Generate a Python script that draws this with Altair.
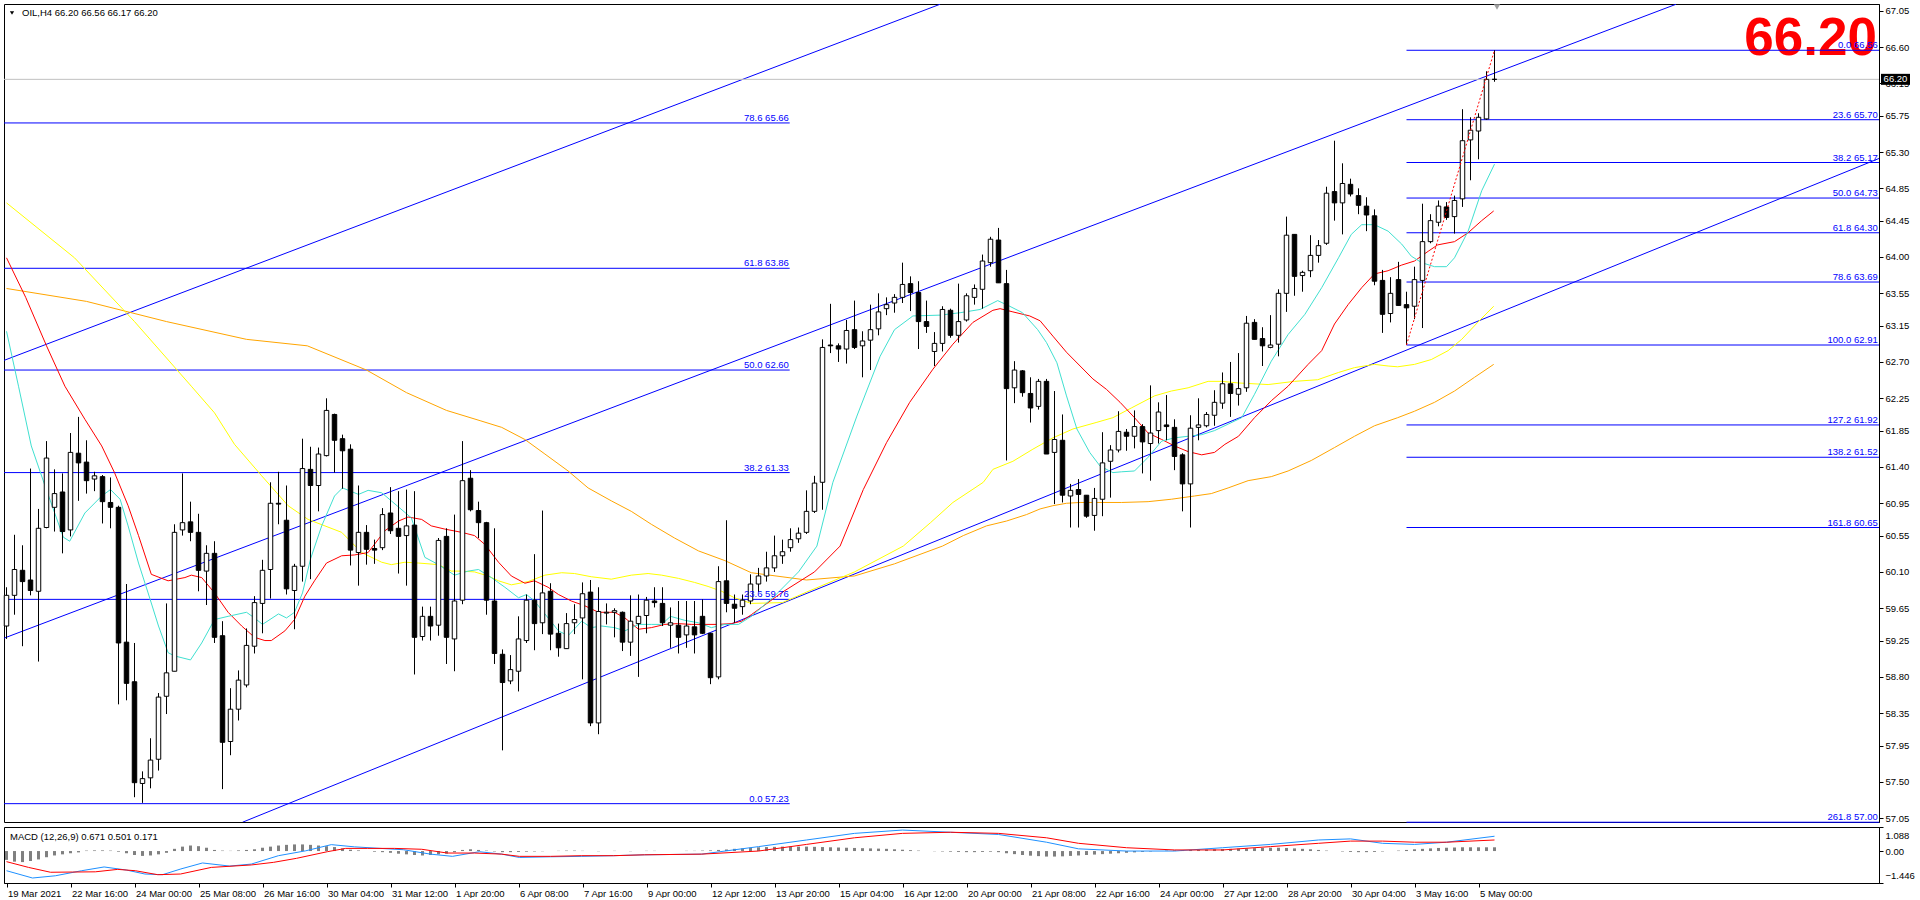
import altair as alt
import pandas as pd

FONT = "Liberation Sans"

# ---------------- OHLC (H4 bars, index 0 = 19 Mar 2021 08:00) ----------------
opens = [59.43,59.81,60.12,60.00,59.86,60.65,60.90,61.09,60.62,61.57,
         61.46,61.25,61.28,60.96,60.90,59.23,58.74,57.48,57.55,57.78,
         58.56,58.87,60.62,60.72,60.59,60.11,60.33,59.31,58.00,58.40,
         58.70,59.18,59.71,60.13,60.95,60.74,59.87,60.17,61.37,61.17,
         61.54,62.05,61.75,61.62,60.34,60.59,60.39,60.40,60.83,60.64,
         60.55,60.68,59.30,59.55,59.44,60.54,59.27,59.75,61.26,60.86,
         60.71,59.74,59.08,58.75,58.87,59.25,59.75,59.47,59.86,59.34,
         59.15,59.47,59.53,59.85,58.23,59.59,59.60,59.60,59.23,59.46,
         59.56,59.74,59.71,59.44,59.44,59.32,59.42,59.55,59.34,58.80,
         59.99,59.70,59.67,59.74,59.95,60.05,60.15,60.30,60.40,60.51,
         60.59,60.85,61.21,62.91,62.90,62.86,63.10,62.90,62.97,63.11,
         63.36,63.43,63.50,63.67,63.56,63.20,62.83,62.93,63.34,63.03,
         63.22,63.50,63.60,63.93,64.21,63.67,62.38,62.59,62.31,62.15,
         62.46,61.58,61.73,61.04,61.12,61.05,60.80,61.00,61.47,61.61,
         61.83,61.78,61.90,61.69,61.85,61.92,61.89,61.55,61.19,61.89,
         61.91,62.04,62.19,62.43,62.30,62.38,63.19,62.99,62.88,62.92,
         63.55,64.28,63.77,63.83,64.02,64.17,64.81,64.67,64.90,64.76,
         64.63,64.51,63.71,63.30,63.72,63.41,63.39,63.71,64.19,64.43,
         64.62,64.50,64.72,65.45,65.56,65.71,66.20]
highs = [59.91,60.56,60.43,61.38,60.88,61.72,61.37,61.32,61.82,62.02,
         61.73,61.34,61.30,61.27,60.92,59.95,59.22,57.63,58.04,58.60,
         59.71,60.69,61.32,60.97,60.82,60.43,60.48,59.49,58.66,58.88,
         59.40,59.80,60.25,61.21,61.34,61.17,60.20,61.75,61.65,61.64,
         62.25,62.06,61.80,61.68,61.17,60.68,60.50,60.89,61.15,61.10,
         61.12,61.10,59.67,59.67,60.52,60.64,60.81,61.72,61.36,60.97,
         60.72,60.64,59.14,59.07,59.55,59.82,60.32,60.86,59.96,59.46,
         59.59,59.70,59.97,60.00,59.91,59.71,59.65,59.61,59.81,59.82,
         59.79,59.91,59.91,59.66,59.74,59.74,59.74,59.76,59.34,60.17,
         60.74,59.82,59.82,60.07,60.15,60.35,60.55,60.50,60.64,60.65,
         61.11,61.29,62.98,63.42,62.93,63.22,63.46,63.08,63.41,63.55,
         63.50,63.54,63.93,63.76,63.70,63.46,63.07,63.39,63.36,63.67,
         63.55,63.66,64.03,64.25,64.36,63.84,62.71,62.60,62.51,62.49,
         62.49,62.34,62.05,61.19,61.25,61.05,61.14,61.83,61.67,62.09,
         61.87,62.10,61.93,62.41,62.20,62.29,61.99,61.57,62.04,62.25,
         62.08,62.35,62.57,62.70,62.81,63.27,63.23,63.13,63.28,63.60,
         64.50,64.28,63.83,64.27,64.21,64.87,65.44,65.16,64.97,64.85,
         64.74,64.59,63.84,63.75,63.94,63.57,63.88,64.66,64.53,64.70,
         64.68,64.76,65.83,65.73,65.78,66.30,66.56]
lows = [59.27,59.57,59.18,59.81,58.99,60.64,60.60,60.33,60.54,60.98,
        61.07,61.10,60.70,60.64,58.46,58.51,57.31,57.24,57.42,57.64,
        58.34,58.87,60.55,60.48,59.86,59.69,59.22,57.41,57.83,58.26,
        58.67,59.09,59.34,59.77,60.69,59.82,59.39,59.98,60.01,60.85,
        61.53,61.33,61.13,60.18,59.93,60.19,60.20,60.37,60.57,60.08,
        59.93,58.83,59.25,59.25,59.31,58.96,58.87,59.70,60.85,60.52,
        59.57,58.96,57.89,58.71,58.62,59.22,59.13,59.33,59.13,59.05,
        59.15,59.33,58.77,58.19,58.09,59.45,59.29,59.12,59.06,58.80,
        59.34,59.66,59.43,59.16,59.09,59.16,59.09,59.33,58.71,58.77,
        59.60,59.47,59.57,59.70,59.85,59.98,60.10,60.20,60.35,60.46,
        60.57,60.83,60.87,62.81,62.70,62.68,62.86,62.51,62.60,63.03,
        63.28,63.31,63.43,63.33,62.86,63.06,62.65,62.83,63.00,62.94,
        63.20,63.41,63.36,63.88,63.68,61.48,62.19,62.27,61.95,62.11,
        61.56,60.94,60.96,60.65,60.65,60.77,60.61,60.79,61.02,61.58,
        61.60,61.63,61.32,61.23,61.69,61.73,61.36,60.85,60.65,61.73,
        61.89,61.91,62.12,62.02,62.16,62.33,62.98,62.65,62.87,62.77,
        63.32,63.52,63.57,63.75,63.93,64.15,64.45,64.28,64.75,64.53,
        64.32,63.65,63.06,63.19,63.40,62.91,63.23,63.12,64.17,64.38,
        64.46,64.29,64.62,64.95,65.21,65.70,66.17]
closes = [59.81,60.13,59.98,59.87,60.64,61.51,61.07,60.60,61.58,61.45,
          61.23,61.29,60.97,60.90,59.22,58.72,57.49,57.54,57.77,58.55,
          58.85,60.59,60.71,60.59,60.12,60.33,59.29,57.99,58.40,58.76,
          59.19,59.72,60.12,60.95,60.94,59.89,60.17,61.38,61.17,61.56,
          62.10,61.73,61.60,60.37,60.59,60.38,60.37,60.81,60.61,60.54,
          60.67,59.29,59.55,59.43,60.49,59.29,59.74,61.23,60.87,60.71,
          59.75,59.09,58.73,58.89,59.27,59.75,59.46,59.84,59.33,59.16,
          59.46,59.51,59.83,58.23,59.61,59.60,59.62,59.23,59.49,59.55,
          59.75,59.72,59.47,59.47,59.29,59.43,59.32,59.34,58.79,59.98,
          59.71,59.65,59.75,59.95,60.05,60.15,60.30,60.35,60.50,60.58,
          60.85,61.20,62.88,62.90,62.86,63.09,62.88,62.96,63.10,63.32,
          63.41,63.50,63.66,63.56,63.20,63.14,62.93,63.35,63.03,63.20,
          63.52,63.61,63.95,64.22,63.68,62.37,62.60,62.32,62.13,62.46,
          61.56,61.74,61.05,61.11,61.06,60.79,61.01,61.45,61.61,61.84,
          61.78,61.90,61.71,61.82,62.08,61.90,61.53,61.19,61.88,61.92,
          62.05,62.20,62.43,62.31,62.37,63.18,62.98,62.90,62.91,63.55,
          64.27,63.76,63.81,64.02,64.14,64.79,64.67,64.91,64.78,64.64,
          64.52,63.70,63.29,63.55,63.40,63.37,63.72,64.19,64.45,64.63,
          64.49,64.70,65.44,65.57,65.73,66.20,66.20]

ma_cyan_x = [0,1.5,3.1,4.8,7.1,7.9,9.8,11.9,13,14.2,15.2,16.5,17.7,19,20.2,21,23,24.4,26,27.7,30,31,32,34,35,36,37,38,39.4,41,42,44,45.2,46.9,48.1,50.6,52.3,54,56,57.7,59,60.6,62.3,64,65,66,67.7,69,70.2,71.9,73.1,74.4,76,77.3,79,80.6,81.9,83,84.8,86.5,88.1,89.8,91.5,93.1,96,99,101.3,103.3,106.3,109.2,111,113.3,116.7,119.2,121.7,123.9,125.4,127,128.9,130,131.3,132.5,133.8,135.4,136.7,138.3,139.4,141,142.7,144.4,146,147.7,149.4,151,152.7,154.4,156,158.1,160.2,162.3,164.4,166.5,168.1,169.4,171,172.7,174.4,175.6,176.9,178.5,180,181,182.7,184.4,186]
ma_cyan_y = [63.08,62.40,61.66,61.17,60.53,60.48,60.83,61.04,61.12,61.00,60.67,60.21,59.84,59.43,59.10,59.06,59.01,59.22,59.51,59.55,59.60,59.53,59.45,59.58,59.53,59.60,59.84,60.26,60.67,61.04,61.14,61.06,61.11,61.08,60.98,60.77,60.28,60.19,60.06,60.11,60.13,60.03,59.91,59.78,59.82,59.74,59.53,59.37,59.31,59.49,59.41,59.43,59.41,59.37,59.45,59.45,59.45,59.55,59.50,59.47,59.41,59.45,59.45,59.55,59.80,60.10,60.42,61.21,62.03,62.77,63.10,63.27,63.28,63.31,63.35,63.46,63.39,63.31,63.10,62.94,62.69,62.28,61.87,61.58,61.41,61.33,61.34,61.35,61.52,61.72,61.76,61.78,61.80,61.85,61.93,62.01,62.30,62.71,63.04,63.29,63.62,63.99,64.28,64.40,64.40,64.32,64.16,64.01,63.93,63.88,63.88,63.99,64.32,64.82,65.15]

ma_red_x = [0,2.4,5,7.3,9.8,11.9,13.5,15.2,16.5,18.1,20.2,22.3,23.1,24.4,26,27.7,29.4,31,32.3,33.1,34.8,36,37.3,38.5,40,41.9,43.5,45.2,47.3,49,50.2,51.9,53.1,54.8,56.9,58.5,59.8,61.5,63.1,64.8,66,67.7,69,70.6,72.3,74,76,77.3,79,80.6,82.3,83.9,85.6,87.3,88.9,90.6,91.9,93.1,97,101,104.2,107.1,110,112.9,115.8,118.3,120.8,123.3,124.2,125.8,127.9,129.2,130.8,132.5,134.2,135.8,137.5,139.2,141,142.7,144.4,146,147.7,149.4,151,152.3,154,156,158.1,160.2,162.7,164.4,166,167.7,169.4,171,172.7,174.4,176,177.7,178.9,181,182.7,184.4,185.9]
ma_red_y = [63.99,63.50,62.90,62.40,61.99,61.66,61.33,60.92,60.55,60.07,59.99,60.03,60.06,60.03,59.84,59.60,59.43,59.29,59.25,59.25,59.37,59.51,59.80,59.99,60.21,60.30,60.31,60.34,60.61,60.73,60.78,60.75,60.67,60.63,60.59,60.55,60.44,60.22,60.05,59.96,59.99,59.91,59.82,59.74,59.68,59.60,59.60,59.53,59.39,59.41,59.45,59.46,59.45,59.45,59.45,59.46,59.49,59.57,59.85,60.10,60.42,61.12,61.70,62.20,62.61,62.92,63.19,63.34,63.36,63.32,63.27,63.21,63.02,62.82,62.65,62.49,62.36,62.20,62.01,61.82,61.74,61.66,61.59,61.55,61.58,61.68,61.78,62.01,62.22,62.40,62.67,62.84,63.17,63.41,63.62,63.79,63.83,63.90,63.95,64.07,64.15,64.19,64.30,64.45,64.57]

ma_yellow_x = [0,8.5,16,23.1,26,28.5,31.9,35.2,37.7,41.9,44.4,46.9,48.1,49.8,51.5,54,55.6,56.9,58.5,60.2,61.5,63.1,65.2,67.3,69.4,71,73.1,75.6,78.1,80.2,81.9,84,86,87.7,89.4,91,93.1,97,100,106,112.1,115.5,118.3,122.1,123.3,125.8,128.3,130.8,133.3,136.2,138.3,140.6,143.5,145.6,147.7,150.2,151.9,154,157.7,161,163.9,166.5,168.5,171,172.7,173.9,176,178.1,180.2,181.9,183.9,185.9]
ma_yellow_y = [64.67,63.99,63.20,62.40,62.07,61.68,61.29,60.92,60.75,60.59,60.34,60.22,60.19,60.22,60.21,60.19,60.11,60.11,60.10,60.05,59.99,59.94,59.98,60.06,60.09,60.08,60.04,60.01,60.06,60.08,60.06,60.02,59.97,59.92,59.86,59.78,59.71,59.72,59.85,60.10,60.42,60.71,60.96,61.21,61.37,61.47,61.62,61.76,61.87,61.95,62.01,62.13,62.28,62.34,62.38,62.46,62.46,62.44,62.42,62.46,62.48,62.57,62.63,62.67,62.65,62.64,62.67,62.73,62.84,62.98,63.19,63.39]

ma_orange_x = [0,10,20,30,37.6,45,50,55,59.3,61.9,64.8,67.3,70.2,72.7,75.6,78.1,80.6,83.5,86.5,89.8,93.1,100,106,111,117,119.6,122.5,125,127.5,129.2,130.8,132.5,134.2,139.4,142.7,145.6,148.5,150.6,152.7,155.2,158.1,160.2,163.1,166,168.5,171,173.9,176,178.5,181,183.5,185.9]
ma_orange_y = [63.61,63.45,63.20,62.98,62.90,62.60,62.32,62.10,61.97,61.89,61.74,61.56,61.35,61.14,60.98,60.85,60.69,60.52,60.36,60.24,60.09,60.00,60.05,60.20,60.42,60.55,60.67,60.73,60.81,60.88,60.92,60.95,60.96,60.96,60.97,61.00,61.04,61.07,61.14,61.23,61.28,61.35,61.48,61.64,61.78,61.91,62.01,62.09,62.20,62.34,62.51,62.67]

# ---------------- MACD (12,26,9) ----------------
macd_x = [0,3.25,6.1,9.4,12.2,15,17.3,19.5,21.8,24.5,27.9,30.6,34,37.4,40.6,43.5,46.75,49.6,53,55.75,59.1,61.9,64.1,68,71.9,75.9,79.75,86.9,94,100,106,112,118,124,130,134,140,146,152,158,164,168,172,176,180,186]
macd_y = [-0.89,-1.22,-1.12,-0.89,-0.72,-0.86,-1.04,-1.07,-0.81,-0.54,-0.68,-0.59,-0.21,0.01,0.29,0.19,0.12,0.06,-0.14,-0.24,-0.03,-0.14,-0.29,-0.26,-0.24,-0.21,-0.17,-0.14,0.20,0.50,0.80,0.95,0.85,0.75,0.40,0.10,0.00,0.00,0.15,0.30,0.50,0.55,0.35,0.30,0.40,0.67]
signal_x = [0,2.75,5.5,8.25,11.1,13.9,16.1,18.9,21.75,25.6,30.6,33.4,36.25,40.1,42.4,45.1,48.5,51.9,55.1,58.5,61.9,64.1,68,71.9,75.9,79.75,86.9,94,100,106,112,118,124,130,134,140,146,152,158,164,168,172,176,180,186]
signal_y = [-0.48,-0.74,-0.96,-0.95,-0.94,-0.83,-0.89,-1.07,-1.04,-0.74,-0.63,-0.51,-0.33,-0.03,0.12,0.12,0.12,0.08,-0.09,-0.09,-0.14,-0.24,-0.24,-0.21,-0.21,-0.17,-0.14,0.00,0.30,0.60,0.80,0.85,0.80,0.60,0.35,0.15,0.05,0.05,0.20,0.35,0.45,0.45,0.40,0.40,0.50]
hist = [-0.40,-0.48,-0.50,-0.45,-0.38,-0.28,-0.20,-0.15,-0.10,-0.06,
        0.02,0.03,0.03,0.02,-0.03,-0.10,-0.18,-0.22,-0.20,-0.15,
        -0.08,0.10,0.20,0.25,0.22,0.15,0.05,0.02,0.01,0.03,
        0.05,0.08,0.15,0.20,0.25,0.28,0.30,0.30,0.28,0.25,
        0.22,0.18,0.12,0.06,0.03,0.00,-0.03,-0.05,-0.08,-0.12,
        -0.15,-0.18,-0.20,-0.18,-0.15,-0.12,-0.05,0.05,0.08,0.05,
        0.02,-0.02,-0.05,-0.05,-0.04,-0.03,-0.02,-0.01,0.00,0.01,
        0.02,0.02,0.01,0.00,-0.01,0.00,0.01,0.00,-0.01,0.00,
        0.01,0.01,0.00,0.00,0.00,0.01,0.01,0.02,0.03,0.05,
        0.07,0.10,0.12,0.15,0.17,0.18,0.19,0.20,0.20,0.20,
        0.20,0.19,0.18,0.17,0.16,0.15,0.14,0.13,0.12,0.11,
        0.10,0.08,0.06,0.04,0.02,0.00,-0.01,-0.02,-0.03,-0.04,
        -0.05,-0.05,-0.04,-0.03,-0.05,-0.10,-0.14,-0.18,-0.21,-0.23,
        -0.25,-0.25,-0.24,-0.22,-0.20,-0.18,-0.16,-0.14,-0.12,-0.10,
        -0.08,-0.06,-0.04,-0.02,0.00,0.02,0.03,0.04,0.05,0.06,
        0.07,0.08,0.09,0.10,0.11,0.12,0.13,0.14,0.15,0.15,
        0.14,0.12,0.10,0.08,0.05,0.02,0.00,-0.02,-0.04,-0.05,
        -0.05,-0.04,-0.02,0.00,0.02,0.05,0.08,0.10,0.12,0.14,
        0.15,0.16,0.17,0.17,0.17,0.17,0.17]

# ---------------- drawing objects ----------------
fib_r_levels = ["0.0", "23.6", "38.2", "50.0", "61.8", "78.6", "100.0", "127.2", "138.2", "161.8", "261.8"]
fib_r_prices = [66.56, 65.70, 65.17, 64.73, 64.30, 63.69, 62.91, 61.92, 61.52, 60.65, 57.00]
fib_r_start = 175
fib_l_levels = ["0.0", "23.6", "38.2", "50.0", "61.8", "78.6"]
fib_l_prices = [57.23, 59.76, 61.33, 62.60, 63.86, 65.66]
fib_l_end = 97.9

chan_a_x, chan_a_y = [-0.3, 116.7], [62.72, 67.13]
chan_b_x, chan_b_y = [-0.3, 208.7], [59.28, 67.13]
chan_c_x, chan_c_y = [29.5, 234.06], [57.00, 65.22]
fibline_x, fibline_y = [175, 186], [62.91, 66.56]

tick_bars = [0, 8, 16, 24, 32, 40, 48, 56, 64, 72, 80, 88, 96, 104, 112, 120, 128, 136, 144, 152, 160, 168, 176, 184]
tick_labels = ["19 Mar 2021", "22 Mar 16:00", "24 Mar 00:00", "25 Mar 08:00", "26 Mar 16:00", "30 Mar 04:00",
               "31 Mar 12:00", "1 Apr 20:00", "6 Apr 08:00", "7 Apr 16:00", "9 Apr 00:00", "12 Apr 12:00",
               "13 Apr 20:00", "15 Apr 04:00", "16 Apr 12:00", "20 Apr 00:00", "21 Apr 08:00", "22 Apr 16:00",
               "24 Apr 00:00", "27 Apr 12:00", "28 Apr 20:00", "30 Apr 04:00", "3 May 16:00", "5 May 00:00"]
price_ticks = [57.05, 57.50, 57.95, 58.35, 58.80, 59.25, 59.65, 60.10, 60.55, 60.95, 61.40, 61.85,
               62.25, 62.70, 63.15, 63.55, 64.00, 64.45, 64.85, 65.30, 65.75, 66.15, 66.60, 67.05]
last_price = 66.20
title_text = "OIL,H4  66.20 66.56 66.17 66.20"
macd_text = "MACD (12,26,9) 0.671 0.501 0.171"

# ---------------- scales / axes ----------------
W, H_MAIN, H_MACD = 1875, 818, 56
XDOM = [-0.3125, 234.0625]
YDOM = [57.003, 67.133]
MDOM = [-1.446, 1.088]

xs = alt.Scale(domain=XDOM, nice=False, zero=False)
ys = alt.Scale(domain=YDOM, nice=False, zero=False)
ms = alt.Scale(domain=MDOM, nice=False, zero=False)

def X(field="i"):
    return alt.X(f"{field}:Q", scale=xs, axis=None)

def Y(field):
    return alt.Y(f"{field}:Q", scale=ys, title=None,
                 axis=alt.Axis(orient="right", values=price_ticks, format=".2f", grid=False,
                               tickSize=4, labelPadding=2, labelFont=FONT, labelFontSize=9.5,
                               labelColor="black", domainColor="black", tickColor="black"))

# ---------------- data frames ----------------
n = len(opens)
cdf = pd.DataFrame({"i": list(range(n)), "o": opens, "h": highs, "l": lows, "c": closes})
cdf["bull"] = cdf["c"] >= cdf["o"]

def line_df(xv, yv):
    return pd.DataFrame({"i": xv, "p": yv})

fr = pd.DataFrame({"lvl": fib_r_levels, "p": fib_r_prices})
fr["txt"] = fr["lvl"] + " " + fr["p"].map(lambda v: f"{v:.2f}")
fl = pd.DataFrame({"lvl": fib_l_levels, "p": fib_l_prices})
fl["txt"] = fl["lvl"] + " " + fl["p"].map(lambda v: f"{v:.2f}")

layers = []

# big last-price text (drawn first so the fib labels sit on top, as in the reference)
big = pd.DataFrame({"t": [f"{last_price:.2f}"]})
layers.append(alt.Chart(big).mark_text(align="right", baseline="alphabetic", font=FONT, fontSize=53,
                                       fontWeight="bold", color="#ff0000").encode(
    x=alt.value(1873), y=alt.value(51), text="t:N"))

# fib lines
layers.append(alt.Chart(fr).mark_rule(color="#0000ff", strokeWidth=1).encode(
    x=alt.X("a:Q", scale=xs, axis=None), x2="b:Q", y=Y("p")).transform_calculate(
    a=str(fib_r_start), b=str(XDOM[1])))
layers.append(alt.Chart(fl).mark_rule(color="#0000ff", strokeWidth=1, clip=True).encode(
    x=alt.X("a:Q", scale=xs, axis=None), x2="b:Q", y=Y("p")).transform_calculate(
    a=str(XDOM[0]), b=str(fib_l_end)))

# channel lines
for cx, cy in [(chan_a_x, chan_a_y), (chan_b_x, chan_b_y), (chan_c_x, chan_c_y)]:
    layers.append(alt.Chart(line_df(cx, cy)).mark_line(color="#0000ff", strokeWidth=1, clip=True).encode(
        x=X(), y=Y("p")))

# moving averages
for mx, my, col in [(ma_orange_x, ma_orange_y, "#ffa500"), (ma_yellow_x, ma_yellow_y, "#ffff00"),
                    (ma_red_x, ma_red_y, "#ff0000"), (ma_cyan_x, ma_cyan_y, "#40e0d0")]:
    layers.append(alt.Chart(line_df(mx, my)).mark_line(color=col, strokeWidth=1, clip=True).encode(
        x=X(), y=Y("p")))

# current price line
layers.append(alt.Chart(pd.DataFrame({"p": [last_price]})).mark_rule(color="#c0c0c0", strokeWidth=1).encode(
    y=Y("p")))

# candles
layers.append(alt.Chart(cdf).mark_rule(color="black", strokeWidth=1).encode(
    x=X(), y=Y("l"), y2="h:Q"))
layers.append(alt.Chart(cdf).transform_calculate(x1="datum.i - 0.28", x2="datum.i + 0.28").mark_rect(
    stroke="black", strokeWidth=1).encode(
    x=alt.X("x1:Q", scale=xs, axis=None), x2="x2:Q", y=Y("o"), y2="c:Q",
    fill=alt.condition("datum.bull", alt.value("white"), alt.value("black"))))

# fib dotted trend line
layers.append(alt.Chart(line_df(fibline_x, fibline_y)).mark_line(color="#ff0000", strokeWidth=1,
                                                                 strokeDash=[2, 2]).encode(x=X(), y=Y("p")))

# fib labels
layers.append(alt.Chart(fr).mark_text(align="right", baseline="alphabetic", dy=-2, color="#0000ff",
                                      font=FONT, fontSize=9.5).encode(
    x=alt.X("a:Q", scale=xs, axis=None), y=Y("p"), text="txt:N").transform_calculate(a=str(233.9)))
layers.append(alt.Chart(fl).mark_text(align="right", baseline="alphabetic", dy=-2, color="#0000ff",
                                      font=FONT, fontSize=9.5).encode(
    x=alt.X("a:Q", scale=xs, axis=None), y=Y("p"), text="txt:N").transform_calculate(a=str(fib_l_end - 0.1)))

# price box on the axis
pb = pd.DataFrame({"p": [last_price], "t": [f"{last_price:.2f}"]})
layers.append(alt.Chart(pb).mark_tick(orient="horizontal", color="black", size=29, thickness=11,
                                      clip=False, opacity=1).encode(x=alt.value(1891.5), y=Y("p")))
layers.append(alt.Chart(pb).mark_text(color="white", font=FONT, fontSize=9.5, clip=False,
                                      baseline="middle").encode(x=alt.value(1891.5), y=Y("p"), text="t:N"))

# annotations
ann = pd.DataFrame({"t": [title_text]})
layers.append(alt.Chart(ann).mark_text(align="left", baseline="middle", font=FONT, fontSize=9.5,
                                       color="black").encode(x=alt.value(18), y=alt.value(9), text="t:N"))
layers.append(alt.Chart(ann).mark_point(shape="triangle-down", filled=True, color="black", size=18,
                                        opacity=1).encode(x=alt.value(8), y=alt.value(9)))
# chart-shift marker at the top edge
layers.append(alt.Chart(ann).mark_point(shape="triangle-down", filled=True, color="#a0a0a0", size=40,
                                        opacity=1).encode(x=alt.value(1493), y=alt.value(3)))

main = alt.layer(*layers).properties(width=W, height=H_MAIN)

# ---------------- MACD panel ----------------
label_expr = "[" + ",".join("'" + s + "'" for s in tick_labels) + "][indexof([" + ",".join(
    str(b) for b in tick_bars) + "], datum.value)]"
mx_axis = alt.Axis(orient="bottom", values=tick_bars, labelExpr=label_expr, grid=False, tickSize=4,
                   labelAlign="left", labelOffset=1, labelPadding=1, labelFont=FONT, labelFontSize=9.5,
                   labelColor="black", domainColor="black", tickColor="black", labelOverlap=False,
                   labelBound=False, labelFlush=False)
my_axis = alt.Axis(orient="right", values=[-1.446, 0, 1.088], grid=False, tickSize=4, labelPadding=2,
                   labelExpr="datum.value == 0 ? '0.00' : format(datum.value, '.3f')", labelFlush=True,
                   labelFlushOffset=-3,
                   labelFont=FONT, labelFontSize=9.5, labelColor="black", domainColor="black",
                   tickColor="black")

hdf = pd.DataFrame({"i": list(range(len(hist))), "v": hist})
m_layers = [
    alt.Chart(hdf).mark_rule(color="#808080", strokeWidth=3).encode(
        x=alt.X("i:Q", scale=xs, axis=mx_axis, title=None),
        y=alt.Y("v:Q", scale=ms, axis=my_axis, title=None), y2=alt.datum(0)),
    alt.Chart(pd.DataFrame({"i": macd_x, "v": macd_y})).mark_line(color="#1e90ff", strokeWidth=1).encode(
        x=alt.X("i:Q", scale=xs, axis=mx_axis, title=None),
        y=alt.Y("v:Q", scale=ms, axis=my_axis, title=None)),
    alt.Chart(pd.DataFrame({"i": signal_x, "v": signal_y})).mark_line(color="#ff0000", strokeWidth=1).encode(
        x=alt.X("i:Q", scale=xs, axis=mx_axis, title=None),
        y=alt.Y("v:Q", scale=ms, axis=my_axis, title=None)),
    alt.Chart(pd.DataFrame({"t": [macd_text]})).mark_text(align="left", baseline="middle", font=FONT,
                                                          fontSize=9.5, color="black").encode(
        x=alt.value(6), y=alt.value(10), text="t:N"),
]
macd = alt.layer(*m_layers).properties(width=W, height=H_MACD)

chart = alt.vconcat(main, macd, spacing=2).properties(
    padding={"left": 3, "top": 3, "right": 0, "bottom": 0}, background="white"
).configure_view(stroke="black", strokeWidth=1).configure_concat(spacing=2)

chart.save("out.html", embed_options={"renderer": "svg", "actions": False})
